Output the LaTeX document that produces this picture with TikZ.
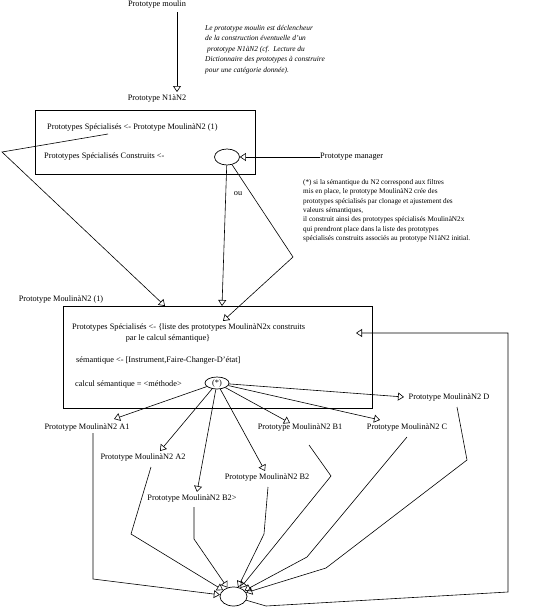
\documentclass[tikz,border=0pt]{standalone}
\usepackage{fontspec}
\setmainfont{Liberation Serif}
\usetikzlibrary{arrows.meta,shapes.geometric}
\begin{document}
\begin{tikzpicture}[x=1pt,y=-1pt,
  lbl/.style={inner sep=0pt, font=\fontsize{8.3}{10}\selectfont},
  txt/.style={inner sep=0pt, anchor=west, font=\fontsize{8.3}{10}\selectfont},
  note/.style={inner sep=0pt, anchor=north west, align=left, font=\fontsize{7.2}{9.4}\selectfont},
  inote/.style={inner sep=0pt, anchor=north west, align=left, font=\fontsize{7.4}{10.5}\selectfont\itshape},
  box/.style={draw, line width=1pt, inner sep=0pt},
  oval/.style={draw, ellipse, line width=0.7pt, inner sep=0pt},
  arr/.style={line width=0.6pt, -{Triangle[open,length=6pt,width=8pt]}},
  ln/.style={line width=0.6pt}
]
\useasboundingbox (0,0) rectangle (538,608);
\fill[white] (0,0) rectangle (538,608);

% top
\node[lbl] (pm) at (157,5) {Prototype moulin};
\node[lbl] (pn) at (157,99) {Prototype N1àN2};
\coordinate (pmS) at (177,12);
\coordinate (pnT) at (177,92);
\draw[arr] (pmS) -- (pnT);

\node[inote] (n1) at (205,25) {Le prototype moulin est déclencheur\\
de la construction éventuelle d'un\\
\hspace{2pt}prototype N1àN2 (cf.\ \ Lecture du\\
Dictionnaire des prototypes à construire\\
pour une catégorie donnée).};

% top box
\node[box, minimum width=220pt, minimum height=64pt] (boxA) at (145,142) {};
\node[txt] (s1) at (47,128) {Prototypes Spécialisés <- Prototype MoulinàN2 (1)};
\node[txt] (s2) at (44,157) {Prototypes Spécialisés Construits <-};
\node[oval, minimum width=25pt, minimum height=16pt] (e1) at (227,157) {};
\node[lbl, anchor=west] (mgr) at (320,157) {Prototype manager};
\draw[arr] (mgr.west) -- (e1);

\node[note] (n2) at (303,179) {(*) si la sémantique du N2 correspond aux filtres\\
mis en place, le prototype MoulinàN2 crée des\\
prototypes spécialisés par clonage et ajustement des\\
valeurs sémantiques,\\
il construit ainsi des prototypes spécialisés MoulinàN2x\\
qui prendront place dans la liste des prototypes\\
spécialisés construits associés au prototype N1àN2 initial.};

\node[lbl] (ou) at (238,194) {ou};

\coordinate (c1) at (108,134);
\coordinate (c2) at (2,152);
\coordinate (t1) at (165,306);
\draw[arr] (c1) -- (c2) -- (t1);
\coordinate (t2) at (222,306);
\draw[arr] (e1) -- (t2);
\coordinate (k1) at (293,257);
\coordinate (t3) at (223,321);
\draw[arr] (e1) -- (k1) -- (t3);

% bottom box
\node[lbl] (lb2) at (61,300) {Prototype MoulinàN2 (1)};
\node[box, minimum width=309pt, minimum height=102pt] (boxB) at (217.5,357) {};
\node[txt] (b1) at (72,328) {Prototypes Spécialisés <- \{liste des prototypes MoulinàN2x construits};
\node[lbl] (b2) at (168,338) {par le calcul sémantique\}};
\node[txt] (b3) at (76,361) {sémantique <- [Instrument,Faire-Changer-D'état]};
\node[txt] (b4) at (75,384) {calcul sémantique = <méthode>};
\node[oval, minimum width=24pt, minimum height=12pt, font=\fontsize{8.3}{10}\selectfont] (star) at (217,383) {(*)};

% prototype labels
\node[lbl] (A1) at (87,428) {Prototype MoulinàN2 A1};
\node[lbl] (A2) at (143,458) {Prototype MoulinàN2 A2};
\node[lbl] (B2x) at (192,499) {Prototype MoulinàN2 B2>};
\node[lbl] (B2) at (267,478) {Prototype MoulinàN2 B2};
\node[lbl] (B1) at (300,428) {Prototype MoulinàN2 B1};
\node[lbl] (C) at (407,428) {Prototype MoulinàN2 C};
\node[lbl] (D) at (449,398) {Prototype MoulinàN2 D};

\coordinate (tA1) at (114,419);
\coordinate (tA2) at (160,451);
\coordinate (tB2x) at (197,492);
\coordinate (tB2) at (265,471);
\coordinate (tB1) at (290,423);
\coordinate (tC) at (380,420);
\coordinate (tD) at (404,397);
\draw[arr] (star) -- (tA1);
\draw[arr] (star) -- (tA2);
\draw[arr] (star) -- (tB2x);
\draw[arr] (star) -- (tB2);
\draw[arr] (star) -- (tB1);
\draw[arr] (star) -- (tC);
\draw[arr] (star) -- (tD);

% bottom ellipse
\node[oval, minimum width=27pt, minimum height=19pt] (bot) at (233.5,596.5) {};

\coordinate (sA1) at (93,433);   \coordinate (kA1) at (93,579);
\coordinate (sA2) at (151,467);  \coordinate (kA2) at (131,534);
\coordinate (sB2x) at (194,507); \coordinate (kB2x) at (194,539);
\coordinate (sB2) at (268,487);  \coordinate (kB2) at (264,534);
\coordinate (sB1) at (309,445);  \coordinate (kB1) at (331,476);
\coordinate (sC) at (407,437);   \coordinate (kC) at (307,557);
\coordinate (sD) at (457,407);   \coordinate (kD1) at (467,460); \coordinate (kD2) at (326,568);
\draw[arr] (sA1) -- (kA1) -- (bot);
\draw[arr] (sA2) -- (kA2) -- (bot);
\draw[arr] (sB2x) -- (kB2x) -- (bot);
\draw[arr] (sB2) -- (kB2) -- (bot);
\draw[arr] (sB1) -- (kB1) -- (bot);
\draw[arr] (sC) -- (kC) -- (bot);
\draw[arr] (sD) -- (kD1) -- (kD2) -- (bot);

\coordinate (r1) at (266,606);
\coordinate (r2) at (508,592);
\coordinate (r3) at (508,333);
\coordinate (tR) at (356,333);
\draw[arr] (bot) -- (r1) -- (r2) -- (r3) -- (tR);
\end{tikzpicture}
\end{document}
